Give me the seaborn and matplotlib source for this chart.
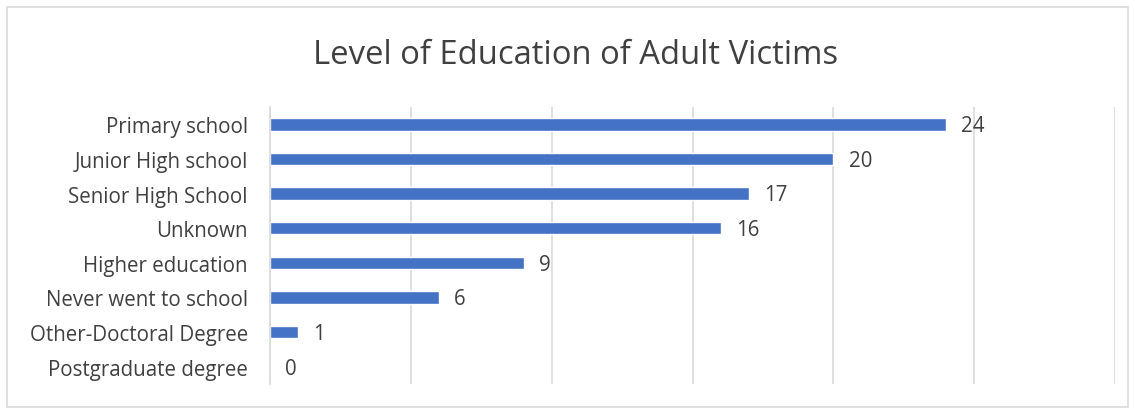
import matplotlib
matplotlib.use("Agg")
import matplotlib.pyplot as plt
import seaborn as sns
import pandas as pd
import numpy as np
from matplotlib.patches import Rectangle

categories = ["Primary school", "Junior High school", "Senior High School", "Unknown",
              "Higher education", "Never went to school", "Other-Doctoral Degree",
              "Postgraduate degree"]
values = [24, 20, 17, 16, 9, 6, 1, 0]
title = "Level of Education of Adult Victims"

sns.set_theme(style="white")
plt.rcParams['font.family'] = ['Open Sans', 'DejaVu Sans']

df = pd.DataFrame({"cat": categories, "val": values})

fig = plt.figure(figsize=(11.35, 4.1), dpi=100)
ax = fig.add_axes([270/1135, 1-385/410, (1115-270)/1135, (385-108)/410])

sns.barplot(data=df, y="cat", x="val", orient="h", color="#4472C4",
            width=0.36, ax=ax, saturation=1)

ax.set_xlim(0, 30)
ax.set_xticks(np.arange(0, 31, 5))
ax.set_xticklabels([])
ax.tick_params(axis="x", length=0)
ax.grid(axis="x", color="#D9D9D9", linewidth=1.2)
ax.set_axisbelow(True)
ax.set_ylim(len(categories) - 0.5, -0.5)
for s in ["top", "right", "bottom"]:
    ax.spines[s].set_visible(False)
ax.spines["left"].set_color("#D9D9D9")
ax.spines["left"].set_linewidth(1.2)
ax.set_xlabel("")
ax.set_ylabel("")
ax.tick_params(axis="y", which="major", length=0, pad=16, labelsize=14.8, labelcolor="#404040")
ax.set_yticks(np.arange(-0.5, len(categories), 1), minor=True)
ax.tick_params(axis="y", which="minor", length=6, color="#D9D9D9", width=1.2)

for i, v in enumerate(values):
    ax.annotate(str(v), xy=(v, i), xytext=(11, -1), textcoords="offset points",
                va="center", ha="left", fontsize=14.8, color="#404040")

fig.text(576/1135, 1-56/410, title, ha="center", va="center", fontsize=23.6, color="#404040")

fig.patches.append(Rectangle((7/1135, 2/410), 1121/1135, 400/410, transform=fig.transFigure,
                             fill=False, edgecolor="#D9D9D9", linewidth=1.2))

fig.savefig("out.png", dpi=100)
